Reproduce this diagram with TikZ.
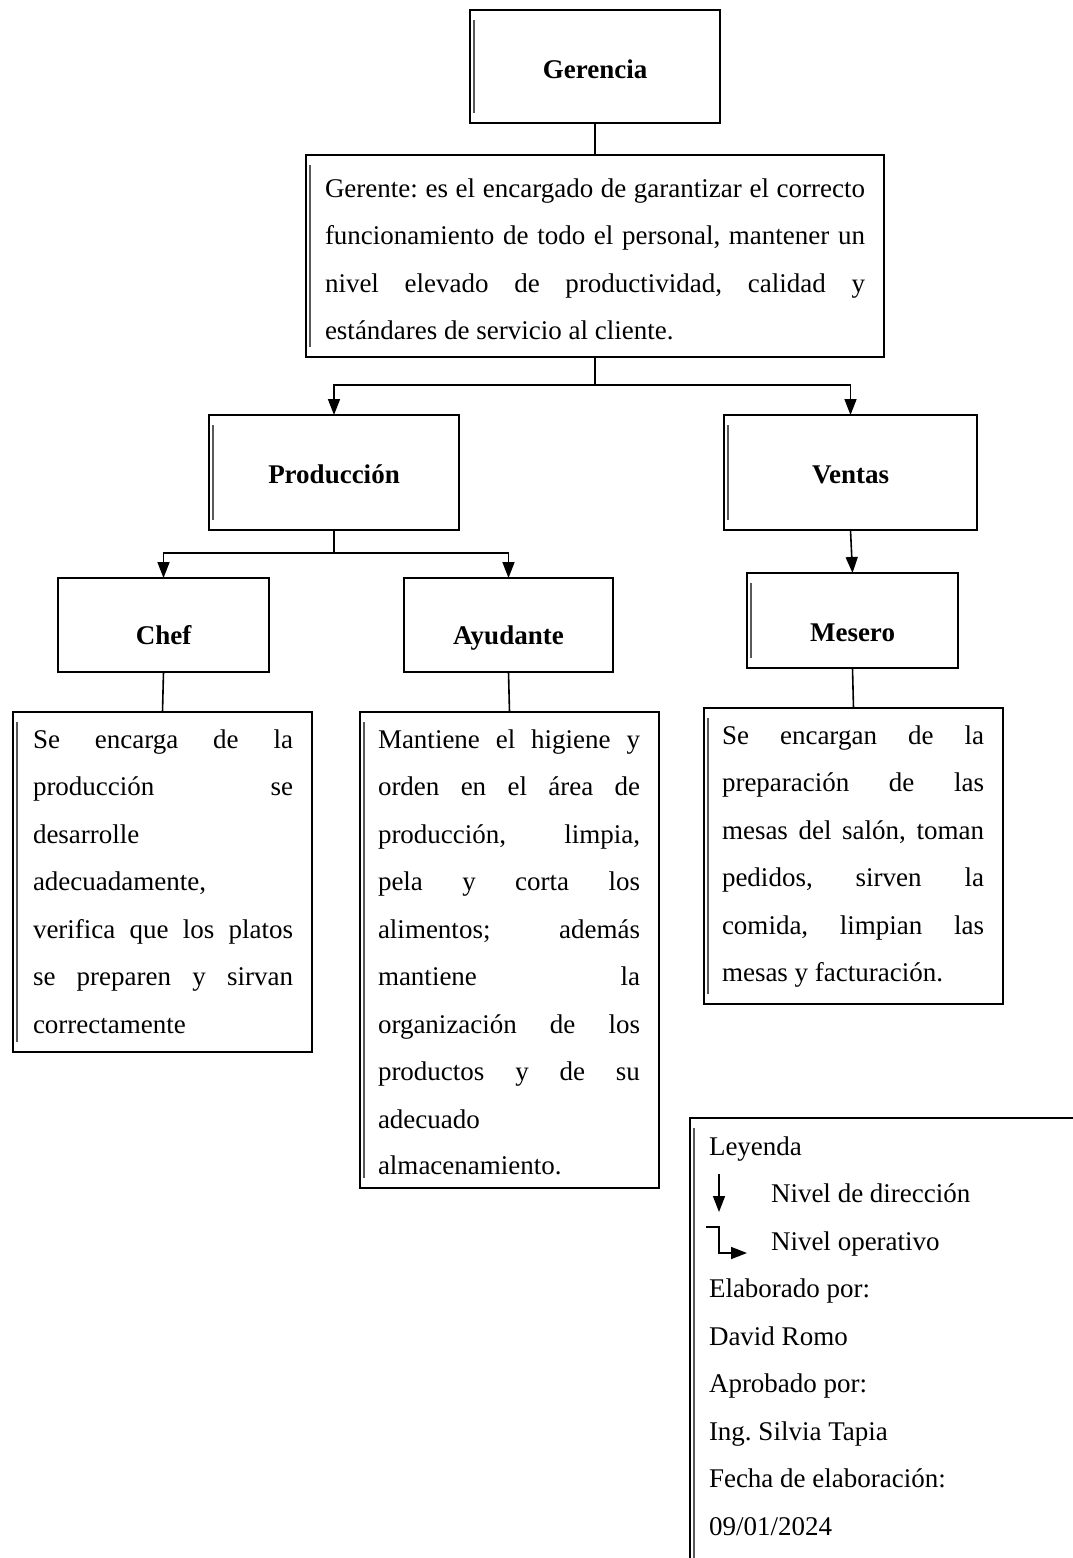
\documentclass[tikz,border=0pt]{standalone}
\usepackage{fontspec}
\setmainfont{Liberation Serif}
\usetikzlibrary{arrows.meta}
\newcommand{\jl}[2]{\makebox[#1][s]{#2}}
\frenchspacing
\begin{document}
\begin{tikzpicture}[x=1pt,y=-1pt,
  every node/.style={font=\fontsize{27}{47.5}\selectfont, inner sep=0pt, outer sep=0pt},
  box/.style={draw, line width=1.6pt, rectangle, inner sep=0pt, outer sep=0pt},
  innerline/.style={draw=black!65, line width=1.5pt},
  conn/.style={line width=1.6pt},
  arr/.style={line width=1.6pt, -{Triangle[width=12pt,length=16pt]}},
  title/.style={font=\fontsize{27}{47.5}\selectfont\bfseries, anchor=base},
  txt/.style={anchor=base west}]
\useasboundingbox (0,0) rectangle (1073,1558);

% boxes
\node[box, minimum width=250pt, minimum height=113pt] (ger) at (595,66.5) {};
\node[box, minimum width=578pt, minimum height=202pt] (gte) at (595,256) {};
\node[box, minimum width=250pt, minimum height=115pt] (prod) at (334,472.5) {};
\node[box, minimum width=253pt, minimum height=115pt] (ven) at (850.5,472.5) {};
\node[box, minimum width=211pt, minimum height=94pt] (chef) at (163.5,625) {};
\node[box, minimum width=209pt, minimum height=94pt] (ayu) at (508.5,625) {};
\node[box, minimum width=211pt, minimum height=95pt] (mes) at (852.5,620.5) {};
\node[box, minimum width=299pt, minimum height=340pt] (chefd) at (162.5,882) {};
\node[box, minimum width=299pt, minimum height=476pt] (ayud) at (509.5,950) {};
\node[box, minimum width=299pt, minimum height=296pt] (mesd) at (853.5,856) {};

\foreach \n in {ger,gte,prod,ven,mes,chefd,ayud,mesd}
  \draw[innerline] ([xshift=4pt,yshift=-10pt]\n.north west) -- ([xshift=4pt,yshift=10pt]\n.south west);

% titles
\node[title] (tger) at (595,78) {Gerencia};
\node[title] (tprod) at (334,483) {Producción};
\node[title] (tven) at (850.5,483) {Ventas};
\node[title] (tchef) at (163.5,644) {Chef};
\node[title] (tayu) at (508.5,644) {Ayudante};
\node[title] (tmes) at (852.5,641) {Mesero};

% connectors
\draw[conn] (ger.south) -- (gte.north);
\draw[arr] (gte.south) -- ++(0,28) -| (prod.north);
\draw[arr] (gte.south) -- ++(0,28) -| (ven.north);
\draw[arr] (prod.south) -- ++(0,23) -| (chef.north);
\draw[arr] (prod.south) -- ++(0,23) -| (ayu.north);
\draw[arr] (ven.south) -- (mes.north);
\draw[conn] (chef.south) -- (chefd.north);
\draw[conn] (ayu.south) -- (ayud.north);
\draw[conn] (mes.south) -- (mesd.north);

% Gerente text
\node[txt] (g1) at (325,197) {\jl{540pt}{Gerente: es el encargado de garantizar el correcto}};
\node[txt] (g2) at (325,244.5) {\jl{540pt}{funcionamiento de todo el personal, mantener un}};
\node[txt] (g3) at (325,292) {\jl{540pt}{nivel elevado de productividad, calidad y}};
\node[txt] (g4) at (325,339.5) {estándares de servicio al cliente.};

% Chef text
\node[txt] (c1) at (33,748) {\jl{260pt}{Se encarga de la}};
\node[txt] (c2) at (33,795.5) {\jl{260pt}{producción se}};
\node[txt] (c3) at (33,843) {desarrolle};
\node[txt] (c4) at (33,890.5) {adecuadamente,};
\node[txt] (c5) at (33,938) {\jl{260pt}{verifica que los platos}};
\node[txt] (c6) at (33,985.5) {\jl{260pt}{se preparen y sirvan}};
\node[txt] (c7) at (33,1033) {correctamente};

% Ayudante text
\node[txt] (a1) at (378,748) {\jl{262pt}{Mantiene el higiene y}};
\node[txt] (a2) at (378,795.5) {\jl{262pt}{orden en el área de}};
\node[txt] (a3) at (378,843) {\jl{262pt}{producción, limpia,}};
\node[txt] (a4) at (378,890.5) {\jl{262pt}{pela y corta los}};
\node[txt] (a5) at (378,938) {\jl{262pt}{alimentos; además}};
\node[txt] (a6) at (378,985.5) {\jl{262pt}{mantiene la}};
\node[txt] (a7) at (378,1033) {\jl{262pt}{organización de los}};
\node[txt] (a8) at (378,1080.5) {\jl{262pt}{productos y de su}};
\node[txt] (a9) at (378,1128) {adecuado};
\node[txt] (a10) at (378,1174) {almacenamiento.};

% Mesero text
\node[txt] (m1) at (722,744) {\jl{262pt}{Se encargan de la}};
\node[txt] (m2) at (722,791.5) {\jl{262pt}{preparación de las}};
\node[txt] (m3) at (722,839) {\jl{262pt}{mesas del salón, toman}};
\node[txt] (m4) at (722,886.5) {\jl{262pt}{pedidos, sirven la}};
\node[txt] (m5) at (722,934) {\jl{262pt}{comida, limpian las}};
\node[txt] (m6) at (722,981.5) {mesas y facturación.};

% Legend
\draw[conn] (690,1560) -- (690,1118) -- (1075,1118);
\draw[innerline] (694,1128) -- (694,1560);
\node[txt] (l1) at (709,1155) {Leyenda};
\coordinate (da1) at (719,1174);
\coordinate (da2) at (719,1212);
\draw[arr] (da1) -- (da2);
\node[txt] (l2) at (771,1202.5) {Nivel de dirección};
\coordinate (sa1) at (706,1227);
\coordinate (sa2) at (747,1253);
\draw[arr] (sa1) -- (719,1227) |- (sa2);
\node[txt] (l3) at (771,1250) {Nivel operativo};
\node[txt] (l4) at (709,1297.5) {Elaborado por:};
\node[txt] (l5) at (709,1345) {David Romo};
\node[txt] (l6) at (709,1392.5) {Aprobado por:};
\node[txt] (l7) at (709,1440) {Ing. Silvia Tapia};
\node[txt] (l8) at (709,1487.5) {Fecha de elaboración:};
\node[txt] (l9) at (709,1535) {09/01/2024};
\end{tikzpicture}
\end{document}
